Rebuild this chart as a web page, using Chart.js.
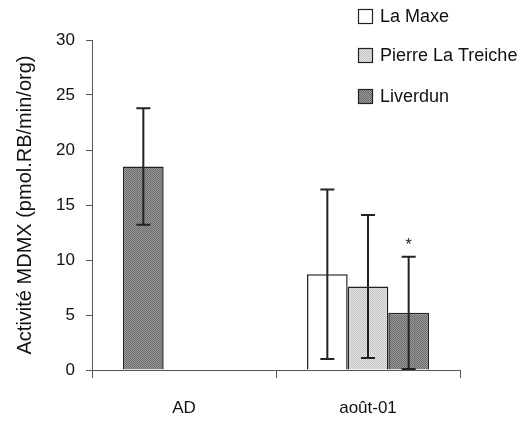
<!DOCTYPE html>
<html>
<head>
<meta charset="utf-8">
<script src="https://cdn.jsdelivr.net/npm/chart.js@4"></script>
<style>
  html, body { margin: 0; padding: 0; background: #fff; }
  #wrap { width: 521px; height: 423px; position: relative; }
</style>
</head>
<body>
<div id="wrap"><canvas id="chart"></canvas></div>
<script>
'use strict';

// values
const categories = ['AD', 'août-01'];
const adValues = [18.5, null];
const adErrors = [5.3, null];
const laMaxeValues = [null, 8.7];
const laMaxeErrors = [null, 7.7];
const pierreValues = [null, 7.6];
const pierreErrors = [null, 6.5];
const liverdunValues = [null, 5.2];
const liverdunErrors = [null, 5.1];
const liverdunMarks = [null, '*'];
const yTicks = [0, 5, 10, 15, 20, 25, 30];

const makePattern = (base, dot) => {
  const c = document.createElement('canvas');
  c.width = 2;
  c.height = 2;
  const g = c.getContext('2d');
  g.fillStyle = base;
  g.fillRect(0, 0, 2, 2);
  g.fillStyle = dot;
  g.fillRect(0, 0, 1, 1);
  g.fillRect(1, 1, 1, 1);
  return g.createPattern(c, 'repeat');
};

const darkFill = makePattern('#9a9a9a', '#6a6a6a');
const lightFill = makePattern('#e4e4e4', '#c4c4c4');

Chart.defaults.font.family = "'Liberation Sans', Arial, sans-serif";
Chart.defaults.color = '#111';

const errorBars = {
  id: 'errorBars',
  afterDatasetsDraw(chart) {
    const { ctx } = chart;
    const y = chart.scales.y;
    chart.data.datasets.forEach((ds, i) => {
      const meta = chart.getDatasetMeta(i);
      meta.data.forEach((bar, j) => {
        const v = ds.data[j];
        const e = ds.errors ? ds.errors[j] : null;
        if (v == null || e == null) return;
        const top = y.getPixelForValue(v + e);
        const bottom = y.getPixelForValue(v - e);
        ctx.save();
        ctx.strokeStyle = '#222';
        ctx.lineWidth = 2;
        ctx.beginPath();
        ctx.moveTo(bar.x, top);
        ctx.lineTo(bar.x, bottom);
        ctx.moveTo(bar.x - 7, top);
        ctx.lineTo(bar.x + 7, top);
        ctx.moveTo(bar.x - 7, bottom);
        ctx.lineTo(bar.x + 7, bottom);
        ctx.stroke();
        if (ds.marks && ds.marks[j]) {
          ctx.fillStyle = '#222';
          ctx.font = "16px 'Liberation Sans', Arial, sans-serif";
          ctx.textAlign = 'center';
          ctx.textBaseline = 'alphabetic';
          ctx.fillText(ds.marks[j], bar.x, top - 7);
        }
        ctx.restore();
      });
    });
  }
};

const sideLegend = {
  id: 'sideLegend',
  afterDraw(chart, args, opts) {
    const { ctx } = chart;
    const items = chart.data.datasets.filter(ds => ds.inLegend !== false);
    ctx.save();
    items.forEach((ds, k) => {
      const cy = opts.rows[k];
      ctx.fillStyle = ds.backgroundColor;
      ctx.fillRect(opts.x, cy - 7, 14, 14);
      ctx.strokeStyle = '#222';
      ctx.lineWidth = 1.2;
      ctx.strokeRect(opts.x + 0.5, cy - 6.5, 14, 14);
      ctx.fillStyle = '#111';
      ctx.font = "18px 'Liberation Sans', Arial, sans-serif";
      ctx.textAlign = 'left';
      ctx.textBaseline = 'middle';
      ctx.fillText(ds.label, opts.x + 22, cy + 1);
    });
    ctx.restore();
  }
};

new Chart(document.getElementById('chart'), {
  type: 'bar',
  data: {
    labels: categories,
    datasets: [
      {
        label: 'Liverdun (AD)',
        data: adValues,
        errors: adErrors,
        stack: 'a',
        backgroundColor: darkFill,
        inLegend: false,
      },
      {
        label: 'La Maxe',
        data: laMaxeValues,
        errors: laMaxeErrors,
        stack: 'a',
        backgroundColor: '#ffffff',
      },
      {
        label: 'Pierre La Treiche',
        data: pierreValues,
        errors: pierreErrors,
        stack: 'b',
        backgroundColor: lightFill,
      },
      {
        label: 'Liverdun',
        data: liverdunValues,
        errors: liverdunErrors,
        marks: liverdunMarks,
        stack: 'c',
        backgroundColor: darkFill,
      },
    ],
  },
  options: {
    responsive: true,
    maintainAspectRatio: false,
    animation: false,
    layout: { padding: { top: 40, right: 61, left: 0, bottom: 0 } },
    datasets: {
      bar: {
        categoryPercentage: 0.663,
        barPercentage: 1,
        borderColor: '#222',
        borderWidth: 1.5,
      },
    },
    scales: {
      x: {
        grid: { drawOnChartArea: false, tickLength: 8, color: '#555' },
        border: { color: '#555' },
        ticks: { font: { size: 17 }, padding: 20 },
        afterFit: (s) => { s.height = 53; },
      },
      y: {
        min: 0,
        max: 30,
        afterBuildTicks: (s) => { s.ticks = yTicks.map(v => ({ value: v })); },
        ticks: { font: { size: 17 }, padding: 11 },
        grid: { drawOnChartArea: false, tickLength: 6, color: '#555' },
        border: { color: '#555' },
        title: {
          display: true,
          text: 'Activité MDMX (pmol.RB/min/org)',
          font: { size: 20 },
          padding: { top: 13, bottom: 0 },
        },
        afterFit: (s) => { s.width = 92; },
      },
    },
    plugins: {
      legend: { display: false },
      tooltip: { enabled: false },
      sideLegend: { x: 358, rows: [16, 55, 96] },
    },
  },
  plugins: [errorBars, sideLegend],
});
</script>
</body>
</html>
